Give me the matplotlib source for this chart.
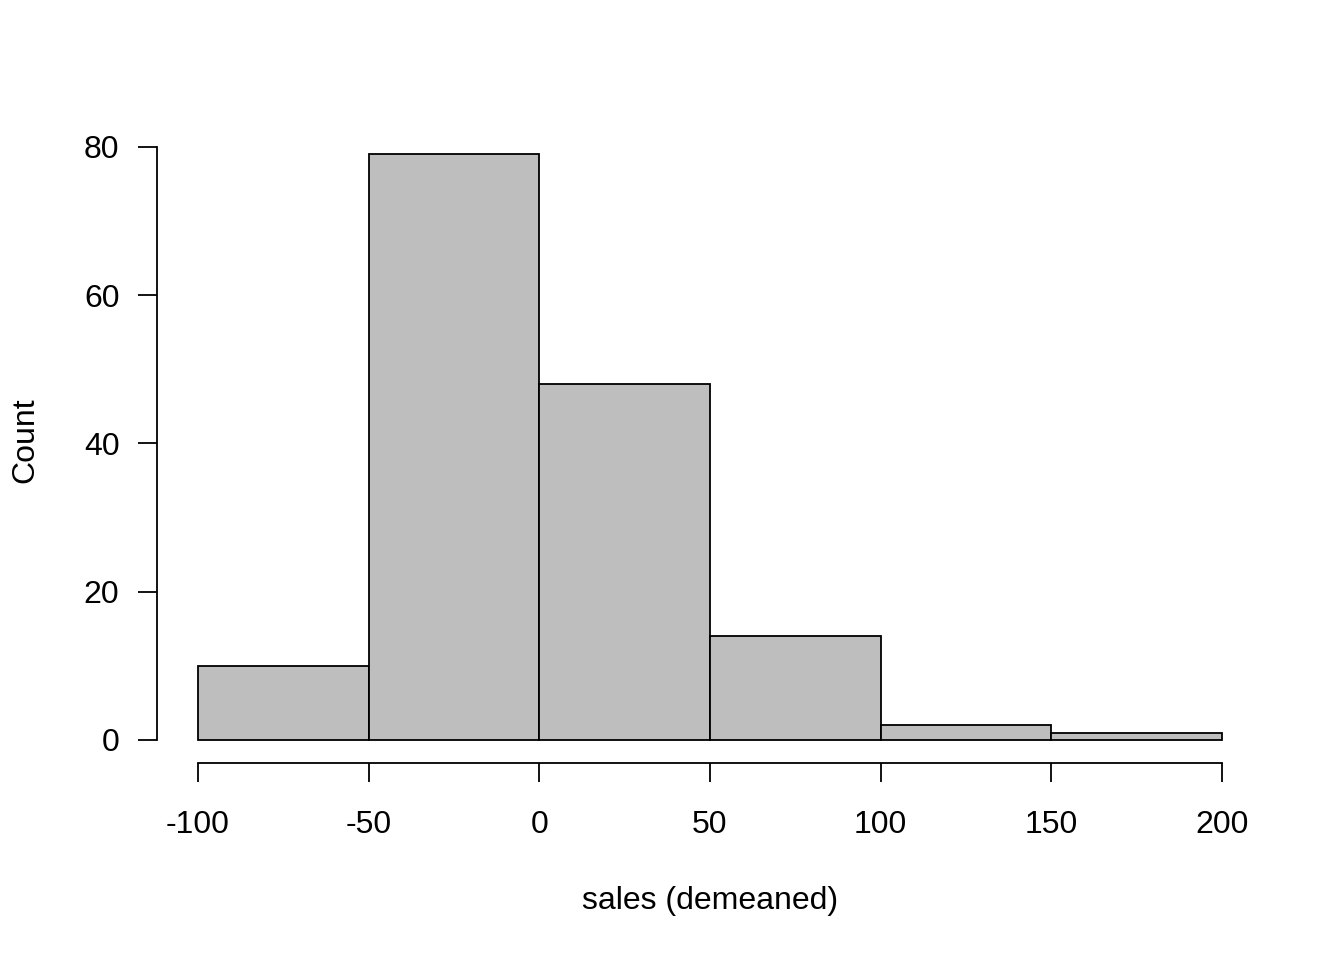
import matplotlib
matplotlib.use('Agg')
import matplotlib.pyplot as plt

# histogram of demeaned sales
bin_edges = [-100, -50, 0, 50, 100, 150, 200]
counts = [10, 79, 48, 14, 2, 1]
x_ticks = [-100, -50, 0, 50, 100, 150, 200]
y_ticks = [0, 20, 40, 60, 80]

plt.rcParams['font.family'] = ['Liberation Sans', 'DejaVu Sans']

fig = plt.figure(figsize=(13.44, 9.6), dpi=100)
ax = fig.add_axes([0.1168, 0.2048, 0.8229, 0.6588])

ax.hist(bin_edges[:-1], bins=bin_edges, weights=counts,
        facecolor='#BEBEBE', edgecolor='black', linewidth=1.3)

# R-style padding and axes
ax.set_xlim(-112, 212)
ax.set_ylim(-3.16, 82.16)
for s in ['top', 'right']:
    ax.spines[s].set_visible(False)
ax.spines['left'].set_bounds(0, 80)
ax.spines['bottom'].set_bounds(-100, 200)
ax.spines['left'].set_linewidth(1.3)
ax.spines['bottom'].set_linewidth(1.3)

ax.set_xticks(x_ticks)
ax.set_xticklabels([str(v) for v in x_ticks])
ax.set_yticks(y_ticks)
ax.set_yticklabels([str(v) for v in y_ticks])
ax.tick_params(axis='both', length=14, width=1.3, labelsize=23)
ax.tick_params(axis='x', pad=19.5)
ax.tick_params(axis='y', pad=13)

ax.set_xlabel('sales (demeaned)', fontsize=23, va='center')
ax.xaxis.set_label_coords(0.5, -0.218)
ax.set_ylabel('Count', fontsize=23, va='center')
ax.yaxis.set_label_coords(-0.119, 0.511)

fig.savefig('out.png', dpi=100)
